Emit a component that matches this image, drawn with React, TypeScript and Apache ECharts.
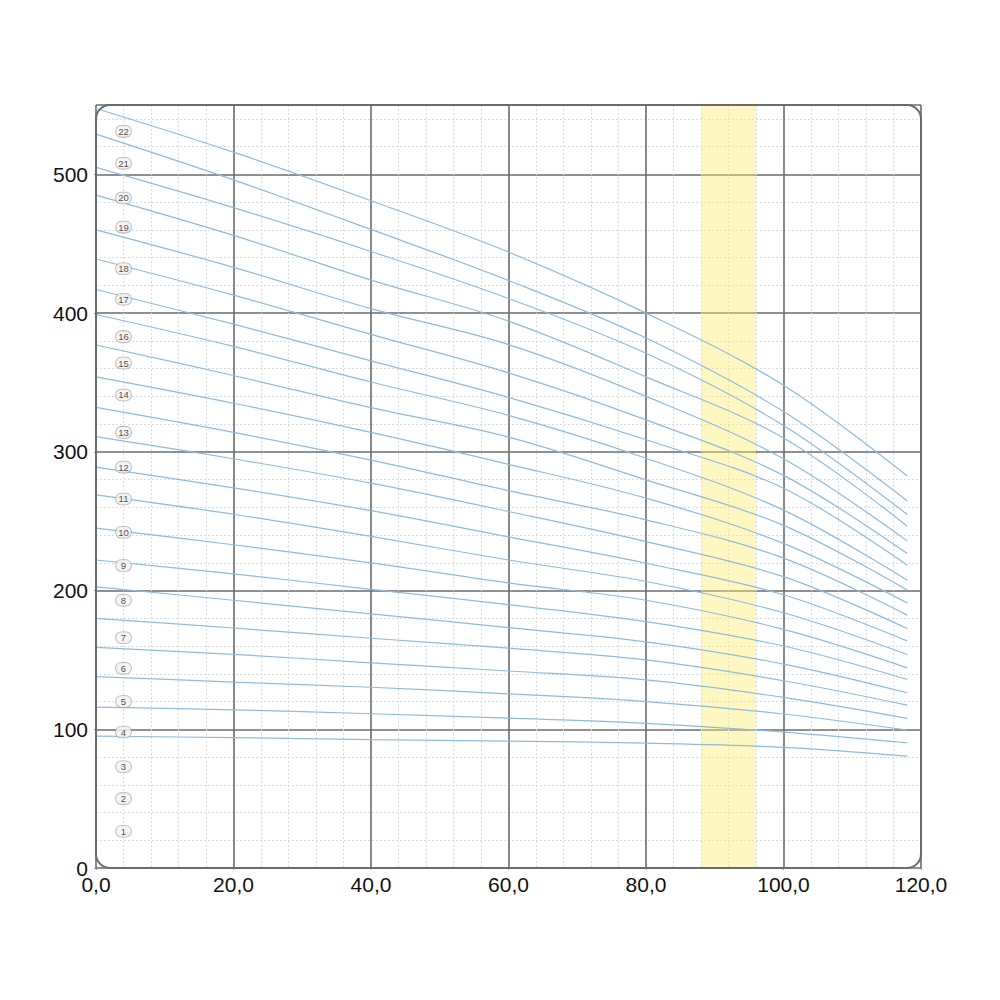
import React, { useEffect, useRef } from "react";
import * as echarts from "echarts";

const xPoints = [0, 20, 40, 60, 80, 100, 118];

// curves from top (22) to bottom (1), values at xPoints
const curveValues: number[][] = [
  [547.5, 516, 481, 444, 400, 348, 282.6],
  [529, 496, 460.3, 423.5, 382, 329, 264.6],
  [505, 476, 444.4, 410.5, 371, 319, 254.8],
  [485, 456, 423.8, 394.2, 354, 310, 246.4],
  [460, 433, 403.2, 377.3, 340, 295, 235.8],
  [439, 413, 384.7, 356.9, 323, 283, 226.7],
  [417, 392, 365.6, 339.3, 308.7, 273.7, 218.3],
  [399, 376, 350.3, 326.3, 295.4, 258, 207.5],
  [377, 355, 331.8, 310.6, 279.8, 247, 200.3],
  [354, 335, 314, 291, 266.6, 234, 191],
  [332, 314, 294, 272, 251, 223.4, 182.3],
  [311, 295, 277.4, 257, 235.3, 210, 172.6],
  [289, 274, 257.6, 238.7, 219.7, 197, 163.7],
  [269, 255, 239, 222, 206.5, 184, 153.9],
  [245, 233, 220, 205.5, 193, 172, 144.3],
  [222, 212, 200.9, 189.8, 177.6, 160, 135.9],
  [202.7, 193, 183.2, 173.3, 163, 147, 126.3],
  [180, 173, 165.6, 158.5, 150, 135, 117.4],
  [159, 154, 147.9, 142, 135.6, 123, 107.9],
  [138, 134, 130.3, 125.5, 120, 111, 99.4],
  [116, 114, 111.2, 108, 104.3, 98, 90.3],
  [95, 94, 92.6, 91.5, 90, 87, 80.7],
];

const markerIds = [1, 2, 3, 4, 5, 6, 7, 8, 9, 10, 11, 12, 13, 14, 15, 16, 17, 18, 19, 20, 21, 22];
const markerY = [26.5, 50, 73, 98, 120, 144, 166, 193, 218, 242, 266, 289, 314, 341, 364, 383, 410, 432, 462, 483, 508, 531];
const markerX = 4;

const bandRange = [88, 96];

const yTicks = [0, 100, 200, 300, 400, 500];
const xTicks = [0, 20, 40, 60, 80, 100, 120];

export default function App() {
  const ref = useRef<HTMLDivElement>(null);
  useEffect(() => {
    if (!ref.current) return;
    const chart = echarts.init(ref.current, undefined, { renderer: "svg" });
    const gridLeft = 96;
    const gridTop = 105;
    const gridW = 825;
    const gridH = 763;

    const lineSeries: any[] = curveValues.map((vals, i) => ({
      type: "line",
      name: "c" + i,
      data: xPoints.map((x, j) => [x, vals[j]]),
      smooth: 0.35,
      showSymbol: false,
      symbol: "none",
      lineStyle: { color: "#8dbbe0", width: 1.2 },
      z: 3,
    }));

    lineSeries.push({
      type: "line",
      name: "band",
      data: [],
      markArea: {
        silent: true,
        itemStyle: { color: "rgba(255,236,110,0.42)" },
        data: [[{ xAxis: bandRange[0] }, { xAxis: bandRange[1] }]],
      },
      z: 2,
    });

    lineSeries.push({
      type: "scatter",
      name: "markers",
      data: markerIds.map((id, i) => [markerX, markerY[i], id]),
      symbolSize: 1,
      itemStyle: { color: "rgba(0,0,0,0)" },
      z: 5,
      label: {
        show: true,
        position: "inside",
        formatter: (p: any) => String(p.value[2]),
        fontSize: 9.5,
        fontFamily: "Liberation Sans, Arial, sans-serif",
        color: "#222",
        backgroundColor: "#f3f3f3",
        borderColor: "#a8a8a8",
        borderWidth: 0.8,
        borderRadius: 5,
        width: 13,
        height: 9,
        lineHeight: 9,
        align: "center",
        verticalAlign: "middle",
        padding: [1, 1],
      },
    });

    chart.setOption({
      animation: false,
      backgroundColor: "#ffffff",
      grid: { left: gridLeft, top: gridTop, width: gridW, height: gridH },
      xAxis: {
        type: "value",
        min: xTicks[0],
        max: xTicks[xTicks.length - 1],
        interval: 20,
        axisLine: { show: false },
        axisTick: { show: true, length: 2, lineStyle: { color: "#999", width: 1 } },
        axisLabel: {
          fontSize: 21,
          color: "#111",
          margin: 6,
          fontFamily: "Liberation Sans, Arial, sans-serif",
          formatter: (v: number) => v.toFixed(1).replace(".", ","),
        },
        splitLine: { show: true, lineStyle: { color: "#6b6b6b", width: 1.6 } },
        minorTick: { show: false, splitNumber: 5 },
        minorSplitLine: { show: true, lineStyle: { color: "#dcdcdc", width: 1, type: [2, 2] } },
      },
      yAxis: {
        type: "value",
        min: yTicks[0],
        max: 550,
        interval: 100,
        axisLine: { show: false },
        axisTick: { show: true, length: 2, lineStyle: { color: "#999", width: 1 } },
        axisLabel: {
          fontSize: 21,
          color: "#111",
          margin: 8,
          fontFamily: "Liberation Sans, Arial, sans-serif",
          showMaxLabel: false,
        },
        splitLine: { show: true, lineStyle: { color: "#6b6b6b", width: 1.6 } },
        minorTick: { show: false, splitNumber: 5 },
        minorSplitLine: { show: true, lineStyle: { color: "#dcdcdc", width: 1, type: [2, 2] } },
      },
      graphic: [
        {
          type: "rect",
          z: 10,
          silent: true,
          shape: { x: gridLeft, y: gridTop, width: gridW, height: gridH, r: 14 },
          style: { fill: "none", stroke: "#6b6b6b", lineWidth: 2 },
        },
      ],
      series: lineSeries,
    });
    return () => chart.dispose();
  }, []);
  return (
    <div
      ref={ref}
      style={{ position: "fixed", left: 0, top: 0, width: 1000, height: 1000, background: "#fff" }}
    />
  );
}
